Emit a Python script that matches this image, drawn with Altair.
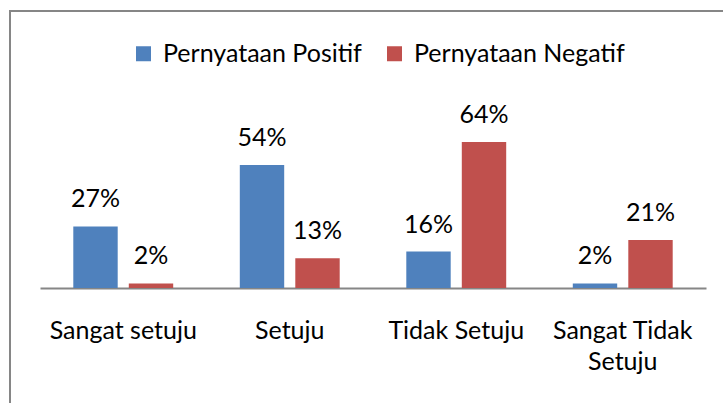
import altair as alt
import pandas as pd

categories = ["Sangat setuju", "Setuju", "Tidak Setuju", "Sangat Tidak Setuju"]
series = ["Pernyataan Positif", "Pernyataan Negatif"]
positif = [27, 54, 16, 2]
negatif = [2, 13, 64, 21]
colors = ["#4F81BD", "#C0504D"]

rows = []
for c, p, n in zip(categories, positif, negatif):
    rows.append({"Kategori": c, "Seri": series[0], "Nilai": p})
    rows.append({"Kategori": c, "Seri": series[1], "Nilai": n})
df = pd.DataFrame(rows)
df["Label"] = df["Nilai"].astype(str) + "%"

FONT = "Lato"
FS = 25

x_enc = alt.X("Kategori:N", sort=categories, title=None,
              scale=alt.Scale(paddingInner=0.4, paddingOuter=0.2),
              axis=alt.Axis(labelAngle=0, ticks=False, domainColor="#868686", domainWidth=2,
                            labelFont=FONT, labelFontSize=FS, labelColor="#000000",
                            labelBaseline="alphabetic", labelPadding=50, labelLineHeight=31,
                            labelExpr="datum.value == 'Sangat Tidak Setuju' ? ['Sangat Tidak', 'Setuju'] : datum.value"))
xoff = alt.XOffset("Seri:N", sort=series, scale=alt.Scale(paddingInner=0.2))
y_enc = alt.Y("Nilai:Q", scale=alt.Scale(domain=[0, 100]), axis=None)
color_enc = alt.Color("Seri:N", sort=series, scale=alt.Scale(domain=series, range=colors),
                      legend=alt.Legend(title=None, orient="none", direction="horizontal",
                                        legendX=91, legendY=-19, symbolType="square",
                                        symbolSize=225, symbolStrokeWidth=0, symbolOpacity=1,
                                        labelFont=FONT, labelFontSize=FS, labelColor="#000000",
                                        labelOffset=7, columnPadding=20, labelLimit=400))

base = alt.Chart(df)
bars = base.mark_bar().encode(x=x_enc, xOffset=xoff, y=y_enc, color=color_enc)
labels = base.mark_text(font=FONT, fontSize=FS, color="#000000", baseline="alphabetic", dy=-19).encode(
    x=x_enc, xOffset=xoff, y=y_enc, text="Label:N")

frame = pd.DataFrame({"k": [0]})
left_border = alt.Chart(frame).mark_rule(color="#868686", strokeWidth=2).encode(
    x=alt.value(-30), y=alt.value(-49), y2=alt.value(343))
top_border = alt.Chart(frame).mark_rule(color="#868686", strokeWidth=2).encode(
    x=alt.value(-31), x2=alt.value(683), y=alt.value(-49))

chart = alt.layer(bars, labels, left_border, top_border).properties(
    width=666, height=228,
    background="#ffffff",
    autosize=alt.AutoSizeParams(type="none"),
    padding={"left": 40, "top": 60, "right": 17, "bottom": 115},
).configure_view(stroke="transparent", strokeWidth=0)

chart.save("out.html", embed_options={"renderer": "svg", "actions": False})
